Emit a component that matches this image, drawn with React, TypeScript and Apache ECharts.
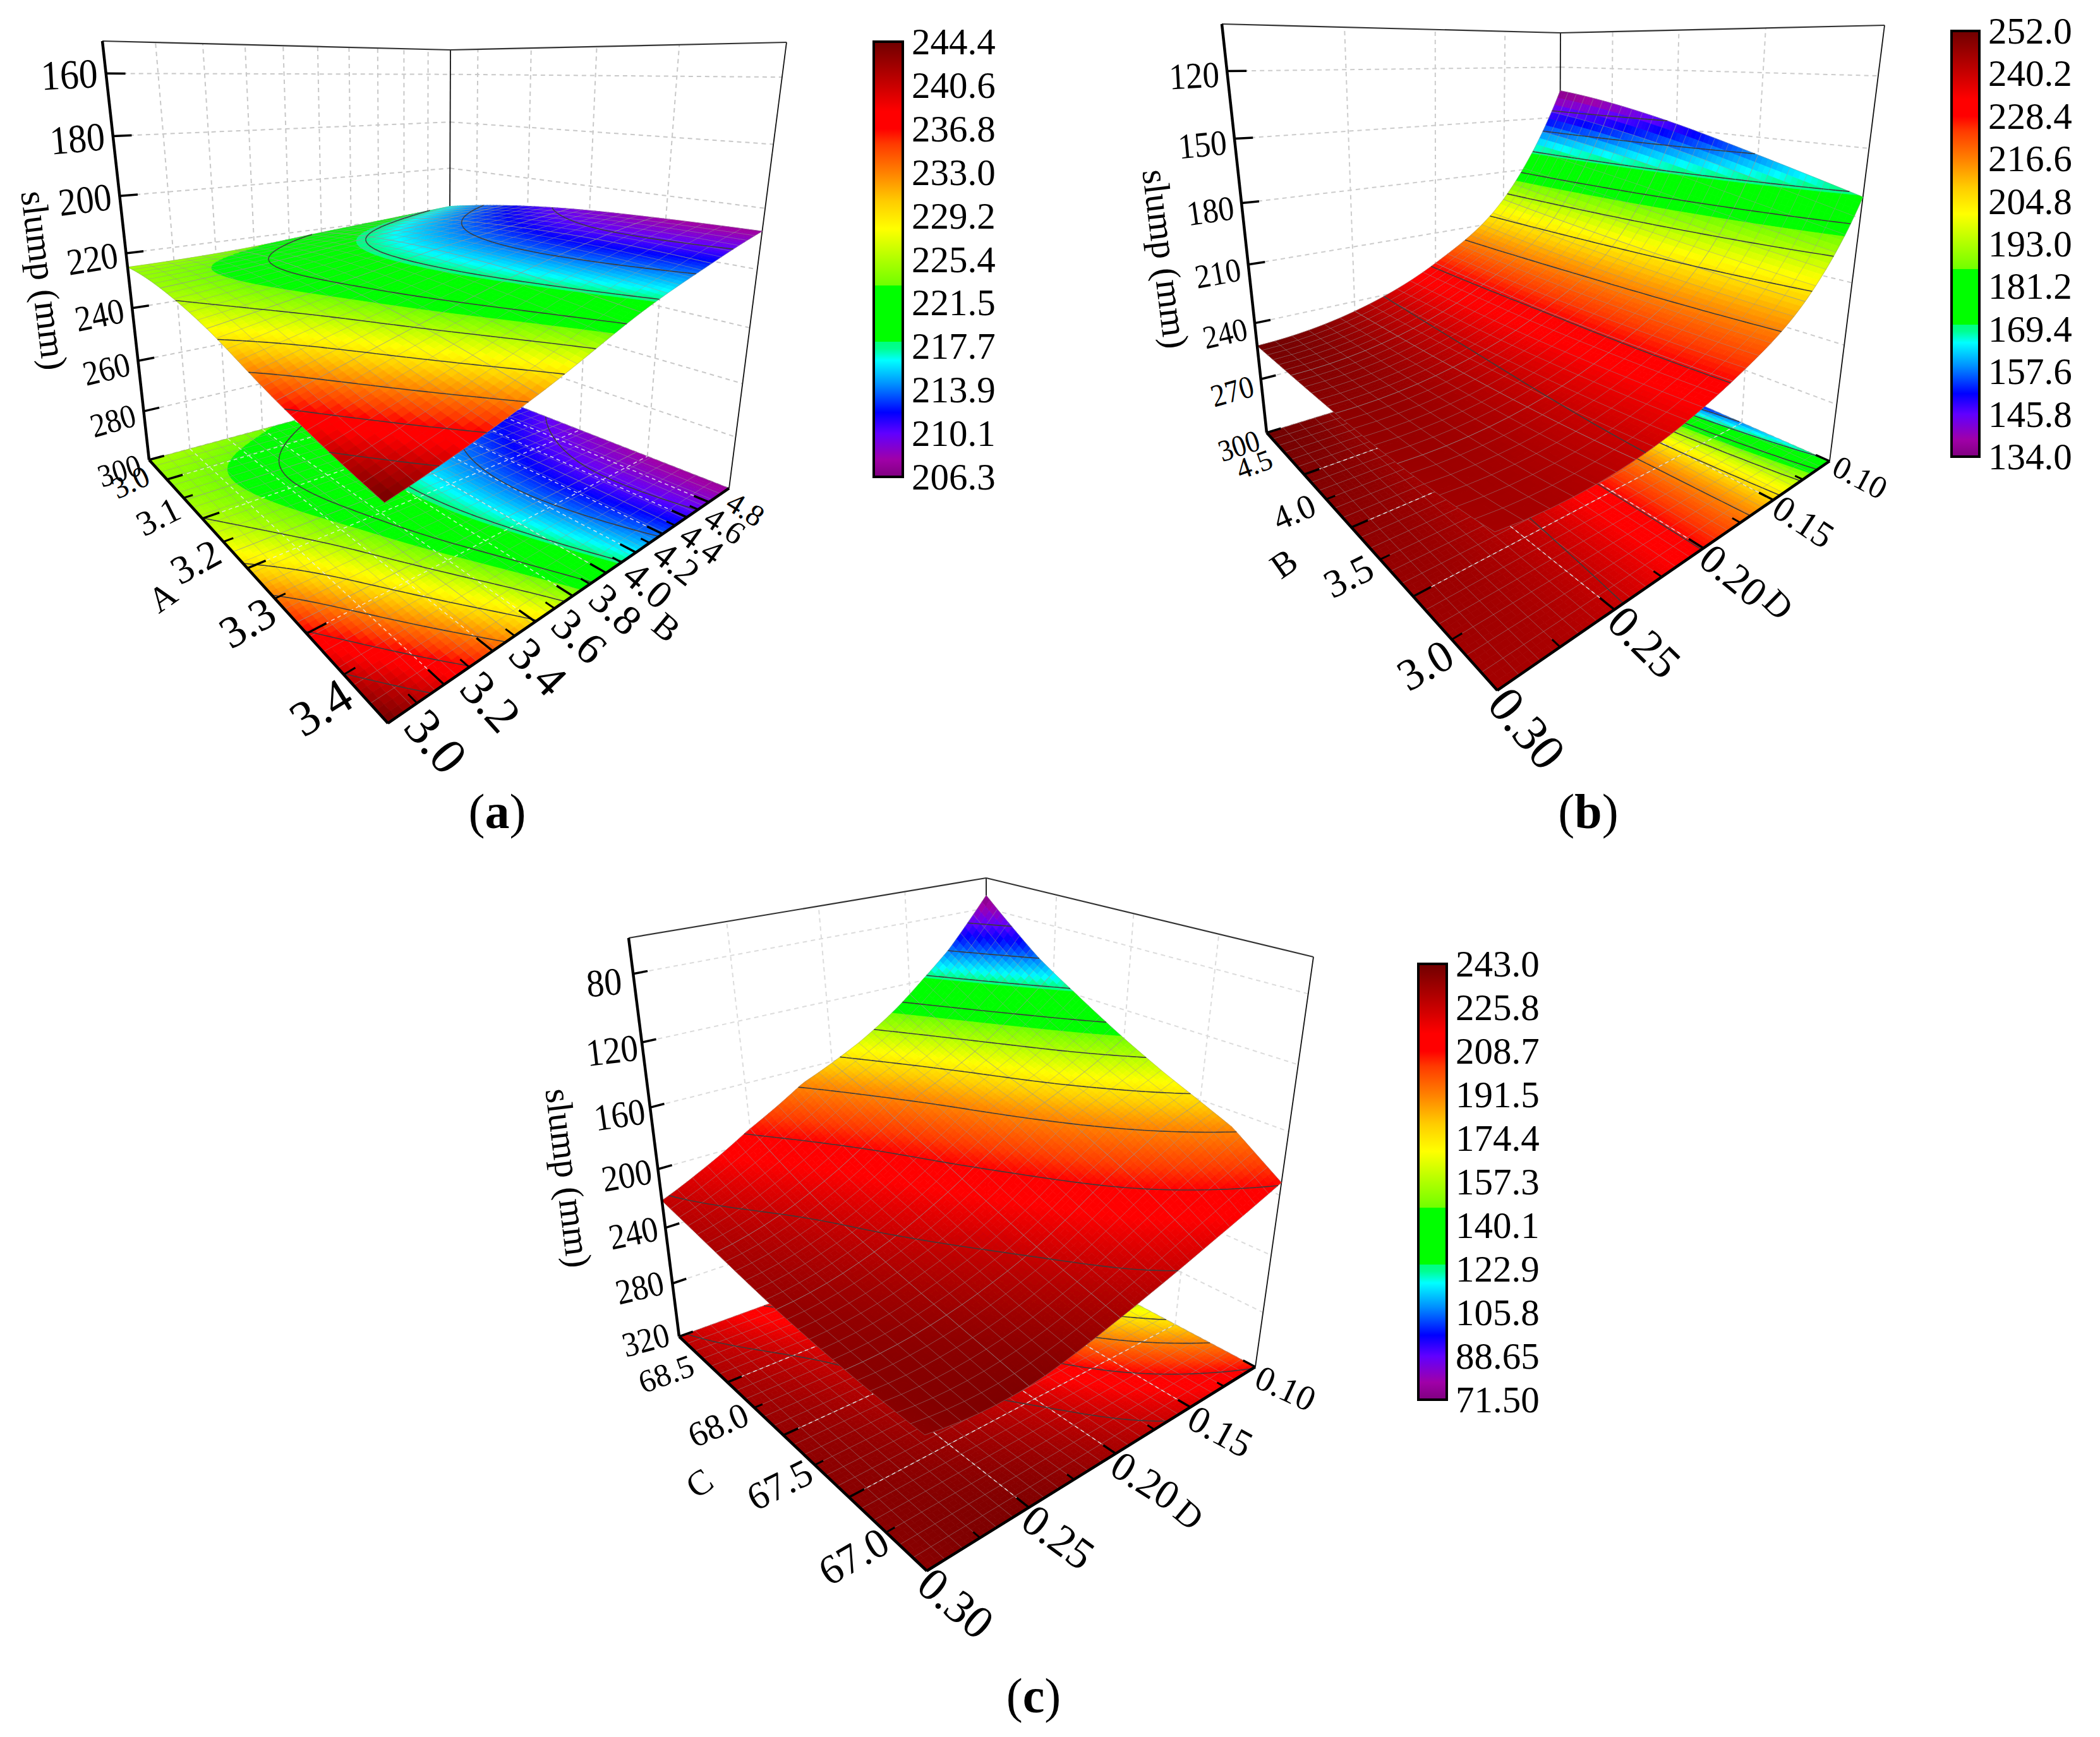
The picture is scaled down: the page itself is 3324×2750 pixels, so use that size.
import React, { useEffect, useRef } from "react";
import * as echarts from "echarts";

// ---------- colour scale ----------
const palettePos = [0, 0.04, 0.1, 0.148, 0.213, 0.268, 0.295, 0.31, 0.3101, 0.44, 0.4401, 0.5, 0.57, 0.633, 0.7, 0.765, 0.8, 0.84, 0.9, 1];
const paletteCol = ["#800080", "#a000a8", "#6000ff", "#0000ff", "#0090ff", "#00ffff", "#00ff90", "#00ff80", "#00ff00", "#00ff00", "#70ff00", "#b0ff00", "#ffff00", "#ffcc00", "#ff8000", "#ff3a00", "#ff0000", "#ff0000", "#c80000", "#700000"];
const paletteJumps = [0.31, 0.44];

// ---------- panel (a) ----------
const aSlump = [
  [225, 224.6, 228, 236, 244.4],
  [223.8, 221.2, 221.6, 225, 232],
  [221.2, 217.5, 216, 216.6, 219.7],
  [219, 214.8, 212.3, 211.2, 212.3],
  [217, 212.5, 209.5, 208, 207.4],
];
const aZTicks = [160, 180, 200, 220, 240, 260, 280, 300];
const aUTicks = [3.0, 3.1, 3.2, 3.3, 3.4];
const aVTicks = [3.0, 3.2, 3.4, 3.6, 3.8, 4.0, 4.2, 4.4, 4.6, 4.8];
const aLegend = ["206.3", "210.1", "213.9", "217.7", "221.5", "225.4", "229.2", "233.0", "236.8", "240.6", "244.4"];

// ---------- panel (b) ----------
const bSlump = [
  [252, 250, 248.2, 246.5, 245],
  [245, 244, 243, 242, 241],
  [227, 227.5, 228, 228, 228],
  [196, 199, 202, 205, 208],
  [134, 139, 147, 158, 171],
];
const bZTicks = [120, 150, 180, 210, 240, 270, 300];
const bUTicks = [4.5, 4.0, 3.5, 3.0];
const bVTicks = [0.1, 0.15, 0.2, 0.25, 0.3];
const bLegend = ["134.0", "145.8", "157.6", "169.4", "181.2", "193.0", "204.8", "216.6", "228.4", "240.2", "252.0"];

// ---------- panel (c) ----------
const cSlump = [
  [227, 232, 236, 238, 238],
  [207, 221, 229, 235, 240],
  [178, 198, 212, 224, 233],
  [135, 163, 184, 203, 222],
  [71.5, 114, 148, 178, 208],
];
const cZTicks = [80, 120, 160, 200, 240, 280, 320];
const cUTicks = [68.5, 68.0, 67.5, 67.0];
const cVTicks = [0.1, 0.15, 0.2, 0.25, 0.3];
const cLegend = ["71.50", "88.65", "105.8", "122.9", "140.1", "157.3", "174.4", "191.5", "208.7", "225.8", "243.0"];
// height for each colour level of panel (c)
const cColourLevel = [71.5, 105, 125, 145, 165, 190, 208, 220, 230, 238, 243];
const cAxisHeight = [71.5, 103, 119, 136, 152, 170, 192, 210, 226, 240, 250];

const SERIF = "Liberation Serif";
const SUB = 18;

function hexRgb(h: string) {
  return [parseInt(h.slice(1, 3), 16), parseInt(h.slice(3, 5), 16), parseInt(h.slice(5, 7), 16)];
}
const paletteRgb = paletteCol.map(hexRgb);
function colorAt(f: number) {
  const x = Math.max(0, Math.min(1, f));
  let k = 0;
  while (k < palettePos.length - 2 && x > palettePos[k + 1]) k++;
  const s = (x - palettePos[k]) / (palettePos[k + 1] - palettePos[k]);
  const a = paletteRgb[k], b = paletteRgb[k + 1];
  return `rgb(${Math.round(a[0] + (b[0] - a[0]) * s)},${Math.round(a[1] + (b[1] - a[1]) * s)},${Math.round(a[2] + (b[2] - a[2]) * s)})`;
}

function cubic(a: number, b: number, c: number, d: number, t: number) {
  return b + 0.5 * t * (c - a + t * (2 * a - 5 * b + 4 * c - d + t * (3 * (b - c) + d - a)));
}
function pick(arr: number[], i: number) {
  const n = arr.length - 1;
  if (i < 0) return 3 * arr[0] - 3 * arr[1] + arr[2];
  if (i > n) return 3 * arr[n] - 3 * arr[n - 1] + arr[n - 2];
  return arr[i];
}
function cubicAlong(arr: number[], x: number) {
  const i = Math.min(Math.floor(x), arr.length - 2);
  return cubic(pick(arr, i - 1), pick(arr, i), pick(arr, i + 1), pick(arr, i + 2), x - i);
}
function buildField(g: number[][]) {
  const n = (g.length - 1) * SUB;
  const out: number[][] = [];
  for (let j = 0; j <= n; j++) {
    const y = j / SUB;
    const col: number[] = [];
    for (let i = 0; i < g[0].length; i++) col.push(cubicAlong(g.map((r) => r[i]), y));
    const row: number[] = [];
    for (let i = 0; i <= n; i++) row.push(cubicAlong(col, i / SUB));
    out.push(row);
  }
  return out;
}

function homography(L: number[], F: number[], R: number[], B: number[]) {
  const dx1 = F[0] - R[0], dx2 = B[0] - R[0], sx = L[0] - F[0] + R[0] - B[0];
  const dy1 = F[1] - R[1], dy2 = B[1] - R[1], sy = L[1] - F[1] + R[1] - B[1];
  const det = dx1 * dy2 - dx2 * dy1;
  const g = (sx * dy2 - dx2 * sy) / det;
  const h = (dx1 * sy - sx * dy1) / det;
  const a = F[0] - L[0] + g * F[0], b = B[0] - L[0] + h * B[0], c = L[0];
  const d = F[1] - L[1] + g * F[1], e = B[1] - L[1] + h * B[1], f = L[1];
  return (u: number, v: number) => [a * u + b * v + c, d * u + e * v + f, g * u + h * v + 1];
}

function makeCamera(L: number[], F: number[], R: number[], B: number[], V: number[], topL: number[], topB: number[], topR: number[], depthB: number[] = B) {
  const floor = homography(L, F, R, B);
  const depth = homography(L, F, R, depthB);
  const k = (topL[1] - L[1]) / (V[1] - topL[1]);
  const fh = depth(1, 0);
  const wTop = fh[2] + k;
  const topF = [(fh[0] + k * V[0]) / wTop, (fh[1] + k * V[1]) / wTop];
  const top = homography(topL, topF, topR, topB);
  return (u: number, v: number, t: number) => {
    const p = floor(u, v), q = top(u, v), w = depth(u, v)[2];
    const s = (t * (w + k)) / (w + t * k);
    const px = p[0] / p[2], py = p[1] / p[2];
    return [px + s * (q[0] / q[2] - px), py + s * (q[1] / q[2] - py)];
  };
}

type Lab = { dx: number; dy: number; size: number; rot: number };
const lerp = (a: number, b: number, s: number) => a + (b - a) * s;

const panels: any[] = [
  {
    grid: aSlump, legend: aLegend, zTicks: aZTicks, uTicks: aUTicks, vTicks: aVTicks,
    zFloor: 300, zTop: 150, uAt: (x: number) => (x - 2.94) / 0.46, vAt: (x: number) => (x - 3) / 2,
    uDec: 1, vDec: 1, dash: "#c8c8c8",
    cam: makeCamera([236, 728], [614, 1145], [1154, 773], [711, 600], [666, 4549], [162, 65], [713, 79], [1245, 67], [711, 578]),
    zLab: [{ dx: -58, dy: 2, size: 60, rot: 3 }, { dx: -47, dy: 17, size: 46, rot: 18 }],
    uLab: [{ dx: -58, dy: 4, size: 48, rot: 25 }, { dx: -106, dy: -25, size: 79, rot: 32 }],
    vLab: [{ dx: 76, dy: 29, size: 82, rot: -50 }, { dx: 58, dy: 11, size: 48, rot: -32 }],
    names: [
      { text: "A", x: 257, y: 945, size: 56, rot: 35 },
      { text: "B", x: 1055, y: 993, size: 56, rot: -40 },
      { text: "slump (mm)", x: 70, y: 444, size: 58, rot: -83 },
    ],
    bar: { left: 1383, top: 66, width: 46, height: 689 },
    caption: { letter: "a", x: 787, y: 1284 },
  },
  {
    grid: bSlump, legend: bLegend, zTicks: bZTicks, uTicks: bUTicks, vTicks: bVTicks,
    zFloor: 300, zTop: 100, uAt: (x: number) => (5 - x) / 2, vAt: (x: number) => (0.3 - x) / 0.2,
    uDec: 1, vDec: 2, dash: "#cccccc",
    cam: makeCamera([2005, 685], [2370, 1093], [2896, 730], [2468, 543], [2423, 4476], [1934, 38], [2470, 52], [2983, 40]),
    zLab: [{ dx: -52, dy: 7, size: 53, rot: 3 }, { dx: -44, dy: 21, size: 44, rot: 18 }],
    uLab: [{ dx: -79, dy: -16, size: 46, rot: 20 }, { dx: -114, dy: -40, size: 71, rot: 30 }],
    vLab: [{ dx: 48, dy: 26, size: 51, rot: -28 }, { dx: 47, dy: 60, size: 80, rot: -50 }],
    names: [
      { text: "B", x: 2032, y: 892, size: 56, rot: 35 },
      { text: "D", x: 2815, y: 957, size: 56, rot: -45 },
      { text: "slump (mm)", x: 1845, y: 410, size: 58, rot: -83 },
    ],
    bar: { left: 3089, top: 49, width: 44, height: 674 },
    caption: { letter: "b", x: 2514, y: 1284 },
  },
  {
    grid: cSlump, legend: cLegend, zTicks: cZTicks, uTicks: cUTicks, vTicks: cVTicks,
    zFloor: 320, zTop: 60, uAt: (x: number) => (69 - x) / 2, vAt: (x: number) => (0.3 - x) / 0.2,
    uDec: 1, vDec: 2, dash: "#dcdcdc", levelX: cColourLevel, levelY: cAxisHeight,
    cam: makeCamera([1075, 2116], [1467, 2487], [1987, 2164], [1562, 1939], [1512, 5543], [995, 1485], [1561, 1390], [2079, 1515]),
    zLab: [{ dx: -46, dy: 14, size: 56, rot: 5 }, { dx: -53, dy: 5, size: 50, rot: 15 }],
    uLab: [{ dx: -97, dy: -13, size: 51, rot: 20 }, { dx: -116, dy: -23, size: 66, rot: 30 }],
    vLab: [{ dx: 48, dy: 34, size: 56, rot: -25 }, { dx: 46, dy: 51, size: 74, rot: -40 }],
    names: [
      { text: "C", x: 1107, y: 2348, size: 56, rot: 35 },
      { text: "D", x: 1882, y: 2398, size: 56, rot: -40 },
      { text: "slump (mm)", x: 900, y: 1865, size: 58, rot: -83 },
    ],
    bar: { left: 2245, top: 1526, width: 45, height: 690 },
    caption: { letter: "c", x: 1636, y: 2684 },
  },
];

panels.forEach((p) => {
  p.field = buildField(p.grid);
  p.min = parseFloat(p.legend[0]);
  p.max = parseFloat(p.legend[p.legend.length - 1]);
  p.levels = p.legend.slice(1, -1).map(parseFloat);
  p.tz = (z: number) => (p.zFloor - z) / (p.zFloor - p.zTop);
  p.tv = (val: number) => {
    if (!p.levelX) return p.tz(val);
    const X = p.levelX, Y = p.levelY;
    let k = 0;
    while (k < X.length - 2 && val > X[k + 1]) k++;
    return p.tz(Y[k] + ((Y[k + 1] - Y[k]) * (val - X[k])) / (X[k + 1] - X[k]));
  };
  const cells: number[][] = [];
  for (let i = 0; i < p.grid[0].length - 1; i++)
    for (let j = p.grid.length - 2; j >= 0; j--) cells.push([i, j, p.grid[j][i]]);
  p.cells = cells;
});

function cellPoint(p: any, surface: boolean, i: number, j: number) {
  const n = (p.grid.length - 1) * SUB;
  return p.cam(i / n, j / n, surface ? p.tv(p.field[j][i]) : 0);
}

// keep the part of a cell (vertices [i, j, value]) on one side of a value
function clipByValue(poly: number[][], lev: number, keepAbove: boolean) {
  const out: number[][] = [];
  const inside = (q: number[]) => (keepAbove ? q[2] >= lev : q[2] <= lev);
  for (let e = 0; e < poly.length; e++) {
    const a = poly[e], b = poly[(e + 1) % poly.length];
    const ia = inside(a), ib = inside(b);
    if (ia) out.push(a);
    if (ia !== ib) {
      const s = (lev - a[2]) / (b[2] - a[2]);
      out.push([a[0] + (b[0] - a[0]) * s, a[1] + (b[1] - a[1]) * s, lev]);
    }
  }
  return out;
}

function fillSeries(p: any, surface: boolean, z: number) {
  const range = p.max - p.min;
  const n = (p.grid.length - 1) * SUB;
  const breaks = paletteJumps.map((f) => p.min + f * range);
  const bands = [[-Infinity, breaks[0]], [breaks[0], breaks[1]], [breaks[1], Infinity]];
  const eps = 0.00012 * range;
  return {
    type: "custom", coordinateSystem: "none", silent: true, z, progressive: 0, data: p.cells,
    renderItem: (_: any, api: any) => {
      const ci = api.value(0), cj = api.value(1);
      const children: any[] = [];
      const f = p.field;
      for (let si = 0; si < SUB; si++) {
        for (let sj = SUB - 1; sj >= 0; sj--) {
          const i = ci * SUB + si, j = cj * SUB + sj;
          const quad = [[i, j, f[j][i]], [i + 1, j, f[j][i + 1]], [i + 1, j + 1, f[j + 1][i + 1]], [i, j + 1, f[j + 1][i]]];
          bands.forEach(([lo, hi]) => {
            let poly = quad;
            if (lo > -Infinity) poly = clipByValue(poly, lo, true);
            if (poly.length >= 3 && hi < Infinity) poly = clipByValue(poly, hi, false);
            if (poly.length < 3) return;
            let val = poly.reduce((acc, q) => acc + q[2], 0) / poly.length;
            val = Math.max(lo + eps, Math.min(hi - eps, val));
            const col = colorAt((val - p.min) / range);
            children.push({
              type: "polygon",
              shape: { points: poly.map((q) => p.cam(q[0] / n, q[1] / n, surface ? p.tv(q[2]) : 0)) },
              style: { fill: col, stroke: col, lineWidth: 0.8 },
            });
          });
        }
      }
      return { type: "group", children };
    },
  };
}

function meshSeries(p: any, surface: boolean, z: number) {
  const step = 3;
  return {
    type: "custom", coordinateSystem: "none", silent: true, z, progressive: 0, data: p.cells,
    renderItem: (_: any, api: any) => {
      const ci = api.value(0), cj = api.value(1);
      const children: any[] = [];
      const style = { fill: "none", stroke: "rgba(150,150,150,0.5)", lineWidth: 1 };
      for (let si = 0; si <= SUB; si += step) {
        const i = ci * SUB + si;
        const pts: number[][] = [];
        for (let sj = 0; sj <= SUB; sj += step) pts.push(cellPoint(p, surface, i, cj * SUB + sj));
        children.push({ type: "polyline", shape: { points: pts }, style });
      }
      for (let sj = 0; sj <= SUB; sj += step) {
        const j = cj * SUB + sj;
        const pts: number[][] = [];
        for (let si = 0; si <= SUB; si += step) pts.push(cellPoint(p, surface, ci * SUB + si, j));
        children.push({ type: "polyline", shape: { points: pts }, style });
      }
      return { type: "group", children };
    },
  };
}

function contourSeries(p: any, surface: boolean, z: number) {
  return {
    type: "custom", coordinateSystem: "none", silent: true, z, progressive: 0, data: p.cells,
    renderItem: (_: any, api: any) => {
      const ci = api.value(0), cj = api.value(1);
      const n = (p.grid.length - 1) * SUB;
      const children: any[] = [];
      const style = { stroke: "#3c3c3c", lineWidth: 1.6, fill: "none" };
      for (let si = 0; si < SUB; si++) {
        for (let sj = 0; sj < SUB; sj++) {
          const i = ci * SUB + si, j = cj * SUB + sj;
          const f = p.field;
          const c = [[i, j, f[j][i]], [i + 1, j, f[j][i + 1]], [i + 1, j + 1, f[j + 1][i + 1]], [i, j + 1, f[j + 1][i]]];
          p.levels.forEach((level: number) => {
            const lev = level + 1e-6;
            const cross: number[][] = [];
            for (let e = 0; e < 4; e++) {
              const a = c[e], b = c[(e + 1) % 4];
              if ((a[2] - lev) * (b[2] - lev) < 0) {
                const s = (lev - a[2]) / (b[2] - a[2]);
                cross.push(p.cam((a[0] + (b[0] - a[0]) * s) / n, (a[1] + (b[1] - a[1]) * s) / n, surface ? p.tv(lev) : 0));
              }
            }
            if (cross.length >= 2) {
              children.push({ type: "line", shape: { x1: cross[0][0], y1: cross[0][1], x2: cross[1][0], y2: cross[1][1] }, style });
            }
          });
        }
      }
      return { type: "group", children };
    },
  };
}

function seg(a: number[], b: number[], style: any) {
  return { type: "line", shape: { x1: a[0], y1: a[1], x2: b[0], y2: b[1] }, style };
}

function wallSeries(p: any, z: number) {
  return {
    type: "custom", coordinateSystem: "none", silent: true, z, data: [[0]],
    renderItem: () => {
      const cam = p.cam;
      const dash = { stroke: p.dash, lineWidth: 2, lineDash: [7, 6], fill: "none" };
      const thin = { stroke: "#111", lineWidth: 1.8, fill: "none" };
      const rim = { stroke: "#333", lineWidth: 2.2, fill: "none" };
      const kids: any[] = [];
      p.zTicks.forEach((zv: number) => {
        const t = p.tz(zv);
        kids.push(seg(cam(0, 0, t), cam(0, 1, t), dash));
        kids.push(seg(cam(0, 1, t), cam(1, 1, t), dash));
      });
      p.vTicks.forEach((x: number) => {
        const v = p.vAt(x);
        if (v > 0.001 && v < 0.999) kids.push(seg(cam(0, v, 0), cam(0, v, 1), dash));
      });
      p.uTicks.forEach((x: number) => {
        const u = p.uAt(x);
        if (u > 0.001 && u < 0.999) kids.push(seg(cam(u, 1, 0), cam(u, 1, 1), dash));
      });
      kids.push(seg(cam(0, 1, 0), cam(0, 1, 1), thin));
      kids.push(seg(cam(1, 1, 0), cam(1, 1, 1), thin));
      kids.push(seg(cam(0, 0, 1), cam(0, 1, 1), rim));
      kids.push(seg(cam(0, 1, 1), cam(1, 1, 1), rim));
      return { type: "group", children: kids };
    },
  };
}

function floorGridSeries(p: any, z: number) {
  return {
    type: "custom", coordinateSystem: "none", silent: true, z, data: [[0]],
    renderItem: () => {
      const cam = p.cam;
      const dash = { stroke: "rgba(235,235,235,0.85)", lineWidth: 1.5, lineDash: [6, 5], fill: "none" };
      const kids: any[] = [];
      p.vTicks.forEach((x: number) => {
        const v = p.vAt(x);
        if (v > 0.001 && v < 0.999) kids.push(seg(cam(0, v, 0), cam(1, v, 0), dash));
      });
      p.uTicks.forEach((x: number) => {
        const u = p.uAt(x);
        if (u > 0.001 && u < 0.999) kids.push(seg(cam(u, 0, 0), cam(u, 1, 0), dash));
      });
      return { type: "group", children: kids };
    },
  };
}

function label(text: string, at: number[], a: Lab, b: Lab, s: number, stretch = 1) {
  return {
    type: "text",
    x: at[0] + lerp(a.dx, b.dx, s),
    y: at[1] + lerp(a.dy, b.dy, s),
    rotation: (lerp(a.rot, b.rot, s) * Math.PI) / 180,
    scaleY: stretch,
    style: { text, fontFamily: SERIF, fontSize: lerp(a.size, b.size, s), fill: "#000", textAlign: "center", textVerticalAlign: "middle", verticalAlign: "middle" },
  };
}

function axisSeries(p: any, z: number) {
  return {
    type: "custom", coordinateSystem: "none", silent: true, z, data: [[0]],
    renderItem: () => {
      const cam = p.cam;
      const heavy = { stroke: "#000", lineWidth: 4.5, fill: "none" };
      const major = { stroke: "#000", lineWidth: 3.5, fill: "none" };
      const minor = { stroke: "#000", lineWidth: 3, fill: "none" };
      const kids: any[] = [];
      kids.push(seg(cam(0, 0, 0), cam(0, 0, 1), heavy));
      kids.push(seg(cam(0, 0, 0), cam(1, 0, 0), heavy));
      kids.push(seg(cam(1, 0, 0), cam(1, 1, 0), heavy));
      const zn = p.zTicks.length - 1;
      p.zTicks.forEach((zv: number, k: number) => {
        const t = p.tz(zv);
        kids.push(seg(cam(0, 0, t), cam(0, 0.036, t), major));
        kids.push(label(String(zv), cam(0, 0, t), p.zLab[0], p.zLab[1], k / zn, 1.1));
      });
      const un = p.uTicks.length - 1;
      p.uTicks.forEach((x: number, k: number) => {
        const u = p.uAt(x);
        kids.push(seg(cam(u, 0, 0), cam(u, 0.036, 0), major));
        kids.push(label(x.toFixed(p.uDec), cam(u, 0, 0), p.uLab[0], p.uLab[1], k / un));
        if (k < un) {
          const um = (u + p.uAt(p.uTicks[k + 1])) / 2;
          kids.push(seg(cam(um, 0, 0), cam(um, 0.02, 0), minor));
        }
      });
      const vn = p.vTicks.length - 1;
      p.vTicks.forEach((x: number, k: number) => {
        const v = p.vAt(x);
        kids.push(seg(cam(1, v, 0), cam(0.964, v, 0), major));
        kids.push(label(x.toFixed(p.vDec), cam(1, v, 0), p.vLab[0], p.vLab[1], k / vn));
        if (k < vn) {
          const vm = (v + p.vAt(p.vTicks[k + 1])) / 2;
          kids.push(seg(cam(1, vm, 0), cam(0.98, vm, 0), minor));
        }
      });
      p.names.forEach((n: any) => {
        kids.push({
          type: "text", x: n.x, y: n.y, rotation: (n.rot * Math.PI) / 180,
          style: { text: n.text, fontFamily: SERIF, fontSize: n.size, fill: "#000", textAlign: "center", textVerticalAlign: "middle", verticalAlign: "middle" },
        });
      });
      return { type: "group", children: kids };
    },
  };
}

function barSeries(idx: number) {
  return {
    type: "custom", coordinateSystem: "cartesian2d", xAxisIndex: idx, yAxisIndex: idx, silent: true, z: 5, data: [[0, 0]],
    renderItem: (params: any) => {
      const r = params.coordSys;
      return {
        type: "rect",
        shape: { x: r.x, y: r.y, width: r.width, height: r.height },
        style: {
          stroke: "#000", lineWidth: 4,
          fill: new echarts.graphic.LinearGradient(0, 1, 0, 0, palettePos.map((pos, k) => ({ offset: pos, color: paletteCol[k] }))),
        },
      };
    },
  };
}

function buildOption() {
  const series: any[] = [];
  panels.forEach((p, n) => {
    const base = n * 20;
    series.push(wallSeries(p, base + 1));
    series.push(fillSeries(p, false, base + 2));
    series.push(meshSeries(p, false, base + 3));
    series.push(floorGridSeries(p, base + 4));
    series.push(contourSeries(p, false, base + 5));
    series.push(fillSeries(p, true, base + 6));
    series.push(meshSeries(p, true, base + 7));
    series.push(contourSeries(p, true, base + 8));
    series.push(axisSeries(p, base + 9));
    series.push(barSeries(n));
  });
  return {
    animation: false,
    backgroundColor: "#fff",
    grid: panels.map((p) => ({ left: p.bar.left, top: p.bar.top, width: p.bar.width, height: p.bar.height, containLabel: false })),
    xAxis: panels.map((_, i) => ({ type: "value", gridIndex: i, show: false, min: 0, max: 1 })),
    yAxis: panels.map((p, i) => ({
      type: "category", gridIndex: i, position: "right", data: p.legend, boundaryGap: false,
      axisLine: { show: false },
      axisTick: { show: true, length: 18, alignWithLabel: true, interval: 0, lineStyle: { color: "#000", width: 3.5 } },
      axisLabel: { show: true, interval: 0, margin: 14, color: "#000", fontFamily: SERIF, fontSize: 59, hideOverlap: false },
      splitLine: { show: false },
    })),
    graphic: panels.map((p) => ({
      type: "text", x: p.caption.x, y: p.caption.y,
      style: {
        text: `{n|(}{b|${p.caption.letter}}{n|)}`, textAlign: "center", textVerticalAlign: "middle", verticalAlign: "middle",
        rich: {
          n: { fontFamily: SERIF, fontSize: 78, fill: "#000" },
          b: { fontFamily: SERIF, fontSize: 78, fontWeight: "bold", fill: "#000" },
        },
      },
    })),
    series,
  };
}

export default function App() {
  const ref = useRef<HTMLDivElement>(null);
  useEffect(() => {
    const chart = echarts.init(ref.current as HTMLDivElement, undefined, { renderer: "svg", width: 3324, height: 2750 });
    chart.setOption(buildOption() as any);
    return () => chart.dispose();
  }, []);
  return <div ref={ref} style={{ position: "absolute", left: 0, top: 0, width: 3324, height: 2750 }} />;
}
